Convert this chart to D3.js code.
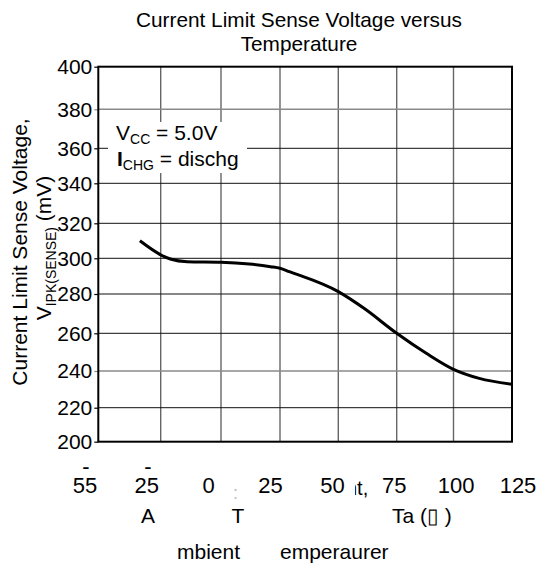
<!DOCTYPE html>
<html>
<head>
<meta charset="utf-8">
<script src="https://cdn.jsdelivr.net/npm/d3@7"></script>
<style>
  body { margin: 0; background: #fff; }
  svg { display: block; font-family: "Liberation Sans", Arial, sans-serif; }
</style>
</head>
<body>
<div class="chart"></div>
<script>
// ---- data ----
var tempTicks = [-55, -25, 0, 25, 50, 75, 100, 125];
var voltTicks = [200, 220, 240, 260, 280, 300, 320, 340, 360, 380, 400];

var curveTemp = [-35, -25, -21, -14, 0, 12, 21, 25, 29, 50, 61, 75, 88, 100, 111, 125];
var curveVolt = [310, 302, 299.6, 298.1, 297.8, 296.8, 295.3, 294.4, 292.5, 281.3, 272.7, 260, 249.4, 240.9, 236, 232.8];

var titleLines = ["Current Limit Sense Voltage versus", "Temperature"];
var grayRows = [380, 240];   // these gridlines are printed lighter

// ---- layout (grid in the original is not quite even) ----
var width = 538, height = 567;
var gridX = [98.3, 160.7, 221, 280, 338.3, 396.7, 453.5, 512];
var gridY = [441.7, 407.7, 371, 333.3, 294, 258.3, 223.3, 183.3, 148.3, 109.3, 66.7];

var svg = d3.select(".chart").append("svg")
    .attr("width", width)
    .attr("height", height);

var x = d3.scaleLinear().domain(tempTicks).range(gridX);
var y = d3.scaleLinear().domain(voltTicks).range(gridY);
// tick labels are spread a bit wider than the gridlines
var xLabel = d3.scalePoint().domain(tempTicks).range([85, 518]);

/************* title ***************/
svg.append("g").selectAll("text")
    .data(titleLines)
    .enter().append("text")
    .attr("x", 299)
    .attr("y", (d, i) => 27 + i * 24)
    .attr("text-anchor", "middle")
    .attr("font-size", 20.8)
    .text(d => d);

/************* grid ***************/
var grid = svg.append("g").attr("class", "grid");
grid.selectAll("line.v")
    .data(tempTicks.slice(1, -1))
    .enter().append("line")
    .attr("class", "v")
    .attr("x1", d => x(d)).attr("x2", d => x(d))
    .attr("y1", y(400)).attr("y2", y(200))
    .attr("stroke", "#666")
    .attr("stroke-width", 1.4);

grid.selectAll("line.h")
    .data(voltTicks.slice(1, -1))
    .enter().append("line")
    .attr("class", "h")
    .attr("x1", x(-55)).attr("x2", x(125))
    .attr("y1", d => y(d)).attr("y2", d => y(d))
    .attr("stroke", d => grayRows.indexOf(d) >= 0 ? "#8a8a8a" : "#111")
    .attr("stroke-width", d => grayRows.indexOf(d) >= 0 ? 1.6 : 1);

/************* y axis ***************/
var yAxis = d3.axisLeft(y).tickValues(voltTicks).tickSize(4).tickPadding(2);
var yg = svg.append("g")
    .attr("transform", "translate(" + x(-55) + ",0)")
    .call(yAxis);
yg.select(".domain").remove();
yg.selectAll(".tick line")
    .attr("stroke", d => grayRows.indexOf(d) >= 0 ? "#8a8a8a" : "#000")
    .attr("stroke-width", 1.2);
yg.selectAll(".tick text")
    .attr("font-size", 21)
    .attr("font-family", null)
    .attr("fill", "#000");

/************* frame ***************/
svg.append("rect")
    .attr("x", x(-55)).attr("y", y(400))
    .attr("width", x(125) - x(-55))
    .attr("height", y(200) - y(400))
    .attr("fill", "none")
    .attr("stroke", "#000")
    .attr("stroke-width", 2);

/************* x tick labels (minus printed above the number) ***************/
var xl = svg.append("g").attr("class", "x-labels").attr("font-size", 22);
var xlt = xl.selectAll("text")
    .data(tempTicks)
    .enter().append("text")
    .attr("text-anchor", "middle")
    .attr("y", 493);
xlt.filter(d => d < 0).append("tspan")
    .attr("x", d => xLabel(d) + 1)
    .attr("y", 474)
    .text("-");
xlt.append("tspan")
    .attr("x", d => xLabel(d))
    .attr("y", 493)
    .text(d => Math.abs(d));

// stray fragments from the original artwork
svg.append("clipPath").attr("id", "ntclip")
    .append("rect").attr("x", 355).attr("y", 470).attr("width", 30).attr("height", 35);
svg.append("text")
    .attr("x", 346).attr("y", 495)
    .attr("font-size", 20)
    .attr("clip-path", "url(#ntclip)")
    .text("nt,");
svg.append("text")
    .attr("x", 233).attr("y", 499)
    .attr("font-size", 18)
    .attr("fill", "#bbb")
    .text(":");

/************* x axis title pieces ***************/
var xt = svg.append("g").attr("font-size", 21);
xt.append("text").attr("x", 148).attr("y", 523).attr("text-anchor", "middle").text("A");
xt.append("text").attr("x", 238).attr("y", 523).attr("text-anchor", "middle").text("T");
xt.append("text").attr("x", 392).attr("y", 523).text("Ta (\u25AF )");
xt.append("text").attr("x", 177).attr("y", 559).text("mbient");
xt.append("text").attr("x", 280).attr("y", 559).text("emperaurer");

/************* y axis title ***************/
var yt = svg.append("g").attr("font-size", 21);
yt.append("text")
    .attr("transform", "translate(27,252) rotate(-90)")
    .attr("text-anchor", "middle")
    .text("Current Limit Sense Voltage,");
var yt2 = yt.append("text")
    .attr("transform", "translate(51,248) rotate(-90)")
    .attr("text-anchor", "middle");
yt2.append("tspan").text("V");
yt2.append("tspan").attr("font-size", 14).attr("dy", 5).text("IPK(SENSE)");
yt2.append("tspan").attr("dy", -5).text(" (mV)");

/************* annotation ***************/
svg.append("rect")
    .attr("x", 108).attr("y", 122)
    .attr("width", 139).attr("height", 51)
    .attr("fill", "#fff");
var ann = svg.append("g").attr("font-size", 21);
var a1 = ann.append("text").attr("x", 116).attr("y", 140);
a1.append("tspan").text("V");
a1.append("tspan").attr("font-size", 14).attr("dy", 4).text("CC");
a1.append("tspan").attr("dy", -4).text(" = 5.0V");
var a2 = ann.append("text").attr("x", 117).attr("y", 166);
a2.append("tspan").attr("font-weight", "bold").text("I");
a2.append("tspan").attr("font-size", 14).attr("dy", 4).text("CHG");
a2.append("tspan").attr("dy", -4).text(" = dischg");

/************* curve ***************/
var line = d3.line()
    .x(d => x(d[0]))
    .y(d => y(d[1]))
    .curve(d3.curveMonotoneX);

svg.append("path")
    .datum(curveTemp.map((t, i) => [t, curveVolt[i]]))
    .attr("d", line)
    .attr("fill", "none")
    .attr("stroke", "#000")
    .attr("stroke-width", 3);
</script>
</body>
</html>
